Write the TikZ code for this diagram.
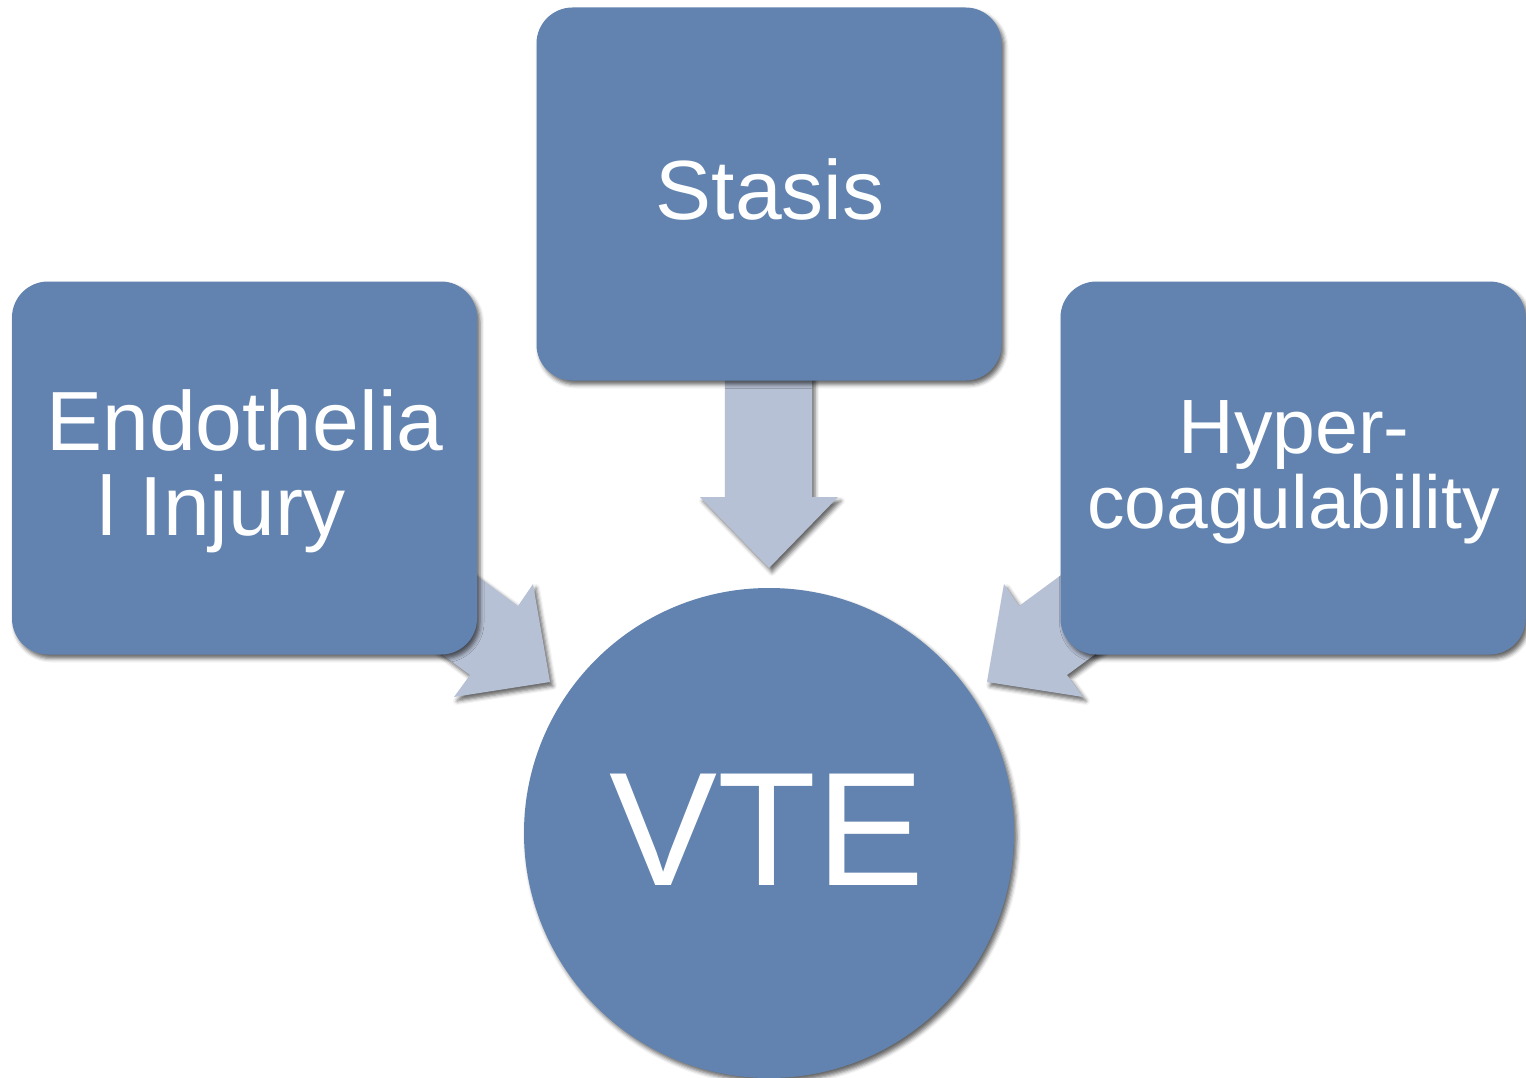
\documentclass[tikz,border=0pt]{standalone}
\usepackage{fontspec}
\setmainfont{Liberation Sans}
\usetikzlibrary{shadows.blur}
\definecolor{boxblue}{RGB}{98,131,175}
\definecolor{arrowblue}{RGB}{183,193,213}
\begin{document}
\begin{tikzpicture}[x=1pt,y=-1pt,
  shad/.style={blur shadow={shadow xshift=3pt, shadow yshift=-4pt, shadow blur radius=4pt, shadow opacity=60}},
  box/.style={shape=rectangle, fill=boxblue, rounded corners=36pt, minimum width=465pt, minimum height=373pt, inner sep=0pt, shad},
  disc/.style={shape=circle, fill=boxblue, minimum size=490pt, inner sep=0pt, shad},
  blockarrow/.style={fill=arrowblue, shad},
  txt/.style={text=white, anchor=base, inner sep=0pt}]
\useasboundingbox (0,0) rectangle (1526,1078);
% block arrows (behind boxes)
\fill[blockarrow] (725,340) -- (812,340) -- (812,497) -- (838,497) -- (769,568) -- (700,497) -- (725,497) -- cycle;
\fill[blockarrow] (397,517) -- (518,606) -- (533,584) -- (550,682) -- (454,697) -- (470,675) -- (349,586) -- cycle;
\fill[blockarrow] (1140,517) -- (1019,606) -- (1004,584) -- (987,682) -- (1083,697) -- (1067,675) -- (1188,586) -- cycle;
% boxes
\node[box] (endo) at (244.5,468) {};
\node[box] (stasis) at (769,194) {};
\node[box] (hyper) at (1293,468) {};
\node[disc] (vte) at (769,833) {};
% texts
\node[txt, font=\fontsize{84}{84}\selectfont] (endo1) at (245,450) {Endothelia};
\node[txt, font=\fontsize{84}{84}\selectfont] (endo2) at (221.5,535) {l Injury};
\node[txt, font=\fontsize{84}{84}\selectfont] (stasist) at (770,220) {Stasis};
\node[txt, font=\fontsize{77}{77}\selectfont] (hyper1) at (1294,453) {Hyper-};
\node[txt, font=\fontsize{75}{75}\selectfont] (hyper2) at (1293.5,528) {coagulability};
\node[txt, font=\fontsize{162}{162}\selectfont] (vtet) at (767,885) {VTE};
\end{tikzpicture}
\end{document}
